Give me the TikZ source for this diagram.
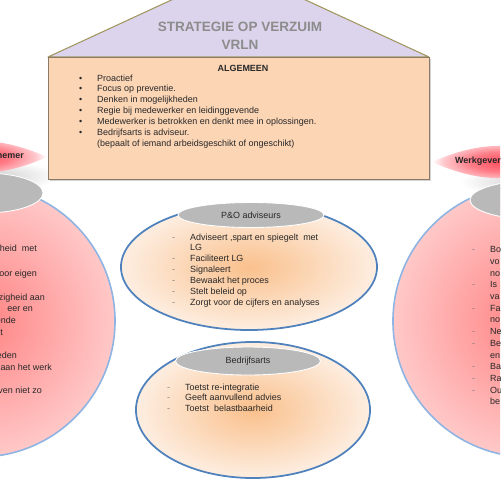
\documentclass[tikz,border=0pt]{standalone}
\usepackage{fontspec}
\setmainfont{Liberation Sans}
\usetikzlibrary{shapes.geometric,shadows,positioning}

\definecolor{lavender}{RGB}{220,212,236}
\definecolor{roofline}{RGB}{160,150,95}
\definecolor{peach}{RGB}{252,213,181}
\definecolor{boxline}{RGB}{140,122,105}
\definecolor{bubbleline}{RGB}{79,129,189}
\definecolor{ballline}{RGB}{141,180,226}
\definecolor{capgray}{RGB}{185,185,185}
\definecolor{bubblein}{RGB}{250,192,140}
\definecolor{bubbleout}{RGB}{253,238,225}
\definecolor{ballin}{RGB}{255,130,130}
\definecolor{ballout}{RGB}{255,200,200}
\definecolor{lensred}{RGB}{255,80,95}
\definecolor{inkgray}{RGB}{40,40,40}

\pgfdeclareradialshading{lensglow}{\pgfpoint{0bp}{0bp}}{color(0bp)=(lensred); color(11bp)=(lensred!75!white);
  color(21bp)=(lensred!30!white); color(25bp)=(white); color(50bp)=(white)}

\newcommand{\bul}{\makebox[0.72cm][l]{\textbullet}}
\newcommand{\dashitem}{\makebox[0.72cm][l]{\textcolor{gray}{-}}}
\newcommand{\noitem}{\hspace*{0.72cm}}

\begin{document}
\begin{tikzpicture}[x=0.04cm, y=-0.04cm,
    body/.style={font=\fontsize{10.2}{12.3}\selectfont, text=inkgray, align=left, inner sep=0pt},
    ball/.style={circle, draw=ballline, line width=1.8pt, inner color=ballin, outer color=ballout, minimum size=10.88cm},
    bubble/.style={ellipse, draw=bubbleline, line width=2pt, inner color=bubblein, outer color=bubbleout},
    graycap/.style={ellipse, fill=capgray, draw=white, line width=1pt, inner sep=0pt, font=\fontsize{10.2}{12}\selectfont, text=inkgray},
    lens/.style={shading=lensglow},
    frag/.style={body, anchor=base east},
    heading/.style={font=\bfseries\fontsize{10.2}{12}\selectfont, text=inkgray, inner sep=0pt}
  ]
    \useasboundingbox (0,0) rectangle (500,500);
    \clip (0,0) rectangle (500,500);

    % side circles
    \node[ball] (wn) at (-21,321) {};
    \node[ball] (wg) at (529,321) {};
    \shade[inner color=gray!45, outer color=white] (-20,176) ellipse [x radius=3.2cm, y radius=0.64cm];
    \shade[inner color=gray!45, outer color=white] (540,182) ellipse [x radius=3.2cm, y radius=0.64cm];
    \node[graycap, minimum width=4.64cm, minimum height=1.6cm] (wncap) at (-15,193) {};
    \node[graycap, minimum width=5.6cm, minimum height=1.6cm] (wgcap) at (540,200) {};

    % labels in lenses
    \shade[lens] (-87,157) to[bend left=24] (47,157) to[bend left=24] (-87,157);
    \node[heading, anchor=east] (wnlabel) at (24,156) {nemer};
    \shade[lens] (432,162) to[bend left=24] (568,162) to[bend left=24] (432,162);
    \node[heading, anchor=west] (wglabel) at (455,161) {Werkgever};

    % roof and general box
    \draw[fill=lavender, draw=roofline, line width=1.2pt, line join=round] (48,57) -- (238.5,-31) -- (429,57) -- cycle;
    \node[font=\bfseries\fontsize{15.4}{20.5}\selectfont, text=black!45, align=center] (title) at (240,36) {STRATEGIE OP VERZUIM\\VRLN};
    \node[draw=boxline, fill=peach, line width=0.8pt, drop shadow={shadow xshift=1.5pt, shadow yshift=-1.5pt, opacity=0.35},
      minimum width=15.24cm, minimum height=4.88cm, anchor=north west, inner sep=0pt] (algemeen) at (48,57) {};
    \node[heading] (algtitle) at (243,68) {ALGEMEEN};
    \node[body, anchor=north west] (alglist) at (79,74.5) {\bul Proactief\\
      \bul Focus op preventie.\\
      \bul Denken in mogelijkheden\\
      \bul Regie bij medewerker en leidinggevende\\
      \bul Medewerker is betrokken en denkt mee in oplossingen.\\
      \bul Bedrijfsarts is adviseur.\\
      \noitem (bepaalt of iemand arbeidsgeschikt of ongeschikt)};

    % P&O
    \node[bubble, minimum width=10.24cm, minimum height=5.04cm] (po) at (249,267) {};
    \node[graycap, minimum width=5.84cm, minimum height=1.0cm] (pocap) at (251,215) {P\&O adviseurs};
    \node[body, anchor=north west] (polist) at (172,233.5) {\dashitem Adviseert ,spart en spiegelt\ \ met\\
      \noitem LG\\
      \dashitem Faciliteert LG\\
      \dashitem Signaleert\\
      \dashitem Bewaakt het proces\\
      \dashitem Stelt beleid op\\
      \dashitem Zorgt voor de cijfers en analyses};

    % Bedrijfsarts
    \node[bubble, minimum width=9.36cm, minimum height=5.44cm] (ba) at (253,410) {};
    \node[graycap, minimum width=5.8cm, minimum height=1.12cm] (bacap) at (248,361) {Bedrijfsarts};
    \node[body, anchor=north west] (balist) at (167,383.5) {\dashitem Toetst re-integratie\\
      \dashitem Geeft aanvullend advies\\
      \dashitem Toetst\ \ belastbaarheid};

    % text in the side circles
    \node[frag] (wn1) at (37,251) {heid\ \ met};
    \node[frag] (wn2) at (37,276) {oor eigen};
    \node[frag] (wn3) at (45,300) {zigheid aan};
    \node[frag] (wn4) at (33,311) {eer en};
    \node[frag] (wn5) at (16,323) {ende};
    \node[frag] (wn6) at (3,335) {t};
    \node[frag] (wn7) at (17,358) {eden};
    \node[frag] (wn8) at (52,370) {aan het werk};
    \node[frag] (wn9) at (42,393) {ven niet zo};
    \node[body, font=\fontsize{10.2}{13.3}\selectfont, anchor=north west] (wglist) at (472,246.5) {\dashitem Bo\\
      \noitem vo\\ \noitem no\\ \dashitem Is\\ \noitem va\\ \dashitem Fa\\ \noitem no\\
      \dashitem Ne\\ \dashitem Be\\ \noitem en\\ \dashitem Ba\\ \dashitem Ra\\ \dashitem Ou\\ \noitem be};
\end{tikzpicture}
\end{document}
